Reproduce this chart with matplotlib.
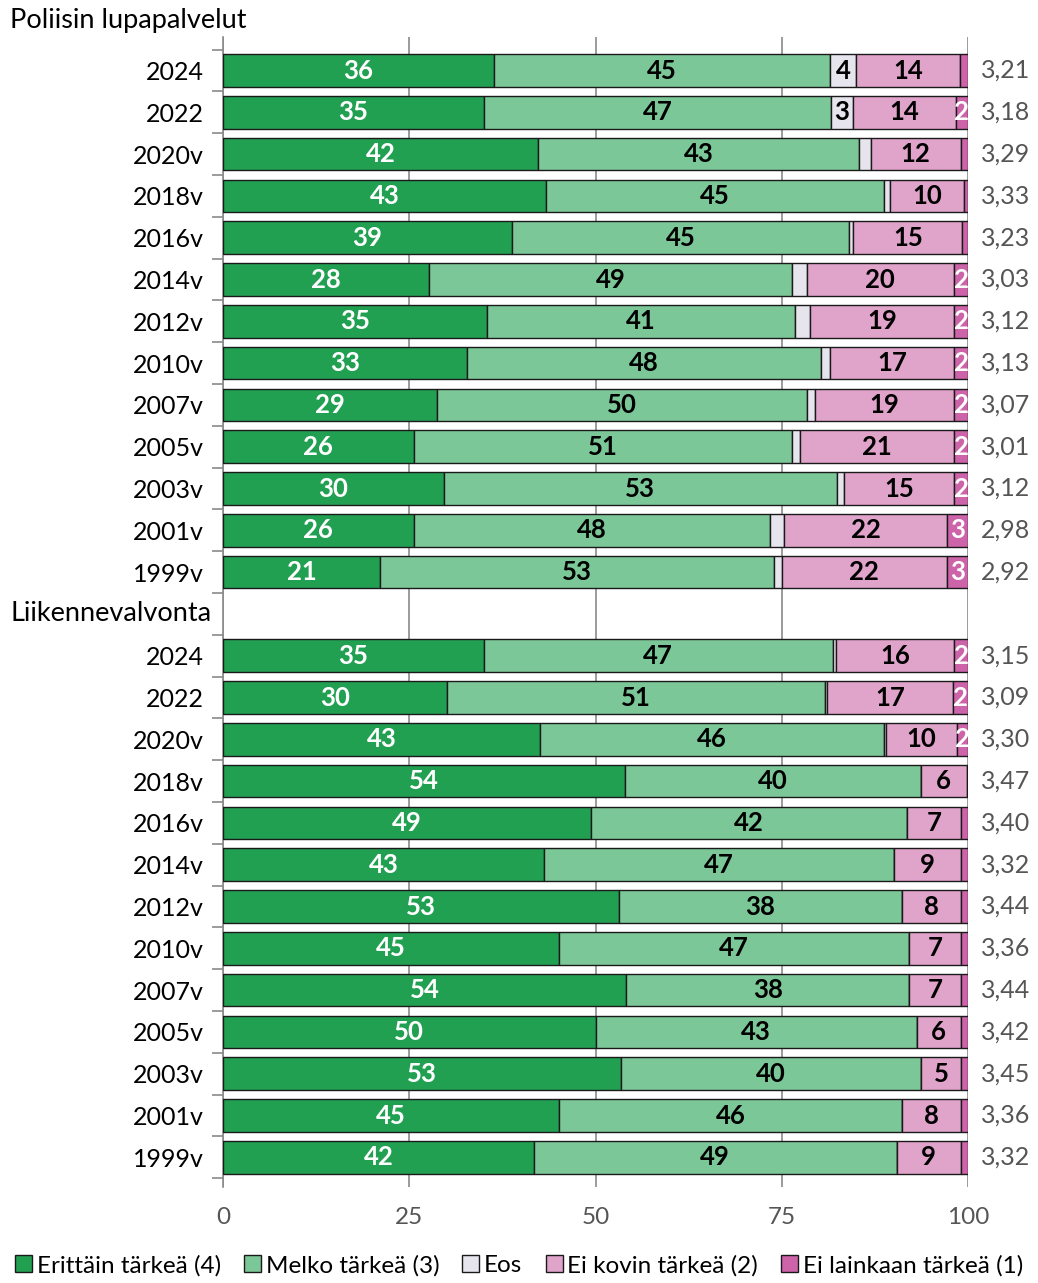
import matplotlib
matplotlib.use("Agg")
import matplotlib.pyplot as plt
from matplotlib.patches import Patch
import numpy as np

plt.rcParams['font.family'] = ['Lato', 'DejaVu Sans']

# data
vuodet = ["2024", "2022", "2020v", "2018v", "2016v", "2014v", "2012v",
          "2010v", "2007v", "2005v", "2003v", "2001v", "1999v"]

lupa_erittain = [36.4, 35.0, 42.3, 43.4, 38.8, 27.6, 35.4, 32.7, 28.7, 25.6, 29.6, 25.6, 21.1]
lupa_melko = [45.0, 46.6, 43.1, 45.3, 45.2, 48.8, 41.3, 47.6, 49.6, 50.8, 52.8, 47.8, 52.9]
lupa_eos = [3.6, 2.9, 1.5, 0.8, 0.6, 1.9, 2.0, 1.1, 1.1, 1.0, 0.9, 1.9, 1.0]
lupa_kovin = [13.9, 13.8, 12.1, 9.9, 14.6, 19.8, 19.4, 16.7, 18.7, 20.7, 14.8, 21.8, 22.1]
lupa_lainkaan = [1.1, 1.7, 1.0, 0.6, 0.8, 1.9, 1.9, 1.9, 1.9, 1.9, 1.9, 2.9, 2.9]
lupa_ka = ["3,21", "3,18", "3,29", "3,33", "3,23", "3,03", "3,12",
           "3,13", "3,07", "3,01", "3,12", "2,98", "2,92"]

liik_erittain = [35.0, 30.0, 42.6, 53.9, 49.4, 43.1, 53.1, 45.1, 54.1, 50.0, 53.4, 45.1, 41.7]
liik_melko = [46.8, 50.8, 46.1, 39.7, 42.4, 47.0, 38.0, 47.0, 38.0, 43.1, 40.3, 46.0, 48.7]
liik_eos = [0.4, 0.3, 0.2, 0, 0, 0, 0, 0, 0, 0, 0, 0, 0]
liik_kovin = [15.9, 16.8, 9.6, 6.2, 7.2, 8.9, 7.9, 6.9, 6.9, 5.9, 5.3, 7.9, 8.6]
liik_lainkaan = [1.9, 2.1, 1.5, 0.2, 1.0, 1.0, 1.0, 1.0, 1.0, 1.0, 1.0, 1.0, 1.0]
liik_ka = ["3,15", "3,09", "3,30", "3,47", "3,40", "3,32", "3,44",
           "3,36", "3,44", "3,42", "3,45", "3,36", "3,32"]

sarjat = ["Erittäin tärkeä (4)", "Melko tärkeä (3)", "Eos",
          "Ei kovin tärkeä (2)", "Ei lainkaan tärkeä (1)"]
varit = ["#22a052", "#7cc798", "#e6e4ec", "#e0a3ca", "#cd63a8"]
tekstivarit = ["white", "black", "black", "black", "white"]
raja = [2.5, 2.5, 2.5, 2.5, 1.5]

# 13 riviä + väliotsikko + 13 riviä
n = len(vuodet)
y_lupa = np.arange(n)
y_liik = np.arange(n) + n + 1

fig = plt.figure(figsize=(10.38, 12.83), dpi=100)
ax = fig.add_axes([0.2148, 0.0745, 0.718, 0.8966])

lohkot = [
    (y_lupa, [lupa_erittain, lupa_melko, lupa_eos, lupa_kovin, lupa_lainkaan], lupa_ka),
    (y_liik, [liik_erittain, liik_melko, liik_eos, liik_kovin, liik_lainkaan], liik_ka),
]

for ys, arvot, ka in lohkot:
    left = np.zeros(n)
    for i, vals in enumerate(arvot):
        vals = np.array(vals, dtype=float)
        ax.barh(ys, vals, left=left, height=0.78, color=varit[i],
                edgecolor="#1a1a1a", linewidth=1.0, zorder=3)
        for y, l, v in zip(ys, left, vals):
            if v >= raja[i]:
                ax.text(l + v / 2, y, str(int(round(v))), ha="center", va="center",
                        color=tekstivarit[i], fontsize=18.5, fontweight="bold", zorder=4)
        left += vals
    for y, t in zip(ys, ka):
        ax.text(101.7, y, t, ha="left", va="center", color="#555555", fontsize=18)

ax.set_xlim(0, 100)
ax.set_ylim(26.72, -0.8)
ax.set_xticks([0, 25, 50, 75, 100])
ax.set_xticklabels(["0", "25", "50", "75", "100"], color="#555555", fontsize=17.5)
ax.tick_params(axis="x", length=0, pad=14)
ax.grid(axis="x", color="#8a8a8a", linewidth=1.2, zorder=0)

ax.set_yticks(list(y_lupa) + list(y_liik))
ax.set_yticklabels(vuodet + vuodet, fontsize=18)
ax.set_yticks(np.arange(-0.5, 27, 1), minor=True)
ax.tick_params(axis="y", which="major", length=0, pad=14)
ax.tick_params(axis="y", which="minor", length=8, width=1.2, color="#8a8a8a")

for s in ["top", "right", "bottom"]:
    ax.spines[s].set_visible(False)
ax.spines["left"].set_color("#8a8a8a")
ax.spines["left"].set_linewidth(1.2)

# väliotsikot
fig.text(0.01, 0.984, "Poliisin lupapalvelut", ha="left", va="center", fontsize=19.5)
trans = matplotlib.transforms.blended_transform_factory(fig.transFigure, ax.transData)
ax.text(0.01, n, "Liikennevalvonta", transform=trans, ha="left", va="center", fontsize=19.5)

kahvat = [Patch(facecolor=c, edgecolor="#1a1a1a", linewidth=1.0) for c in varit]
fig.legend(kahvat, sarjat, loc="lower center", bbox_to_anchor=(0.5, -0.006), ncol=5,
           frameon=False, fontsize=17.5, handlelength=0.7, handleheight=0.7,
           handletextpad=0.2, columnspacing=0.95, borderaxespad=0.2)

fig.savefig("out.png", dpi=100)
